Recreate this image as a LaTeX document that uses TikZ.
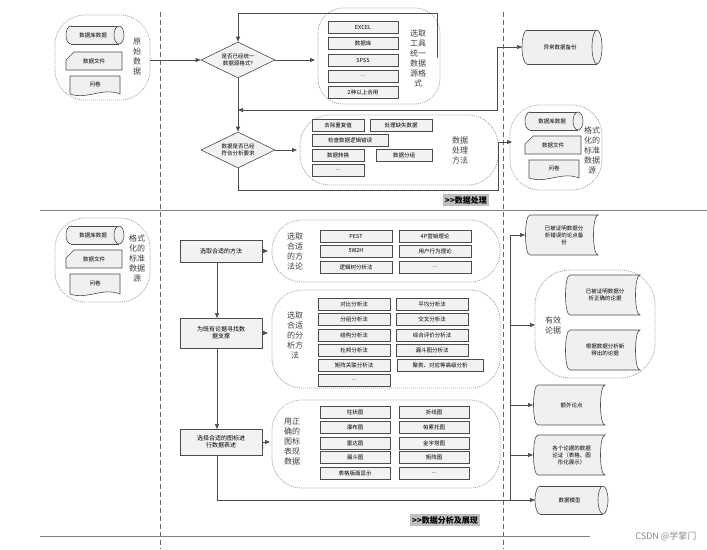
\documentclass[tikz,border=0pt]{standalone}
\usepackage{fontspec}
\setmainfont{Noto Sans CJK SC}
\usetikzlibrary{shapes.geometric,arrows.meta,calc}
\tikzset{
 shp/.style={draw=black!70,fill=black!6,line width=0.6pt},
 bx/.style={draw=black!70,fill=black!5,line width=0.6pt,inner sep=0pt,font=\fontsize{5.5}{6.5}\selectfont},
 grp/.style={draw=black!35,dash pattern=on 1pt off 1pt,line width=0.8pt,rounded corners=30pt},
 lab/.style={font=\fontsize{8}{10}\selectfont,align=center,text=black!75},
 tx/.style={font=\fontsize{5.5}{7}\selectfont,align=center},
 ln/.style={draw=black!70,line width=0.7pt},
 ar/.style={ln,-{Triangle[length=5pt,width=4pt]}},
 dia/.style={diamond,aspect=2,draw=black!70,fill=black!5,line width=0.6pt,inner sep=1pt,font=\fontsize{5.5}{7}\selectfont,align=center},
 ban/.style={fill=black!25,font=\bfseries\fontsize{8}{9}\selectfont,inner sep=2pt}
}
\newcommand\rb[6]{\node[bx,minimum width=#4 pt,minimum height=#5 pt] (#1) at (#2,#3) {#6};}
\newcommand\cysh[6]{%
 \path[shp] ($(#2,#3)!0.5!(#2,#5)+(5,0)$) ellipse [x radius=5,y radius={(#5-#3)/2}];
 \fill[black!6] ($(#2,#3)+(5,0)$) rectangle ($(#4,#5)+(-5,0)$);
 \draw[draw=black!70,line width=0.6pt] ($(#2,#3)+(5,0)$) -- ($(#4,#3)+(-5,0)$) ($(#2,#5)+(5,0)$) -- ($(#4,#5)+(-5,0)$);
 \path[shp] ($(#4,#3)!0.5!(#4,#5)+(-5,0)$) ellipse [x radius=5,y radius={(#5-#3)/2}];
 \node[tx] (#1) at ($(#2,#3)!0.5!(#4,#5)+(-2,0)$) {#6};}
\newcommand\docsh[6]{%
 \draw[shp] (#2,#3) -- (#4,#3) -- (#4,#5) .. controls ($(#4,#5)!0.35!(#2,#5)+(0,-7)$) and ($(#4,#5)!0.65!(#2,#5)+(0,6)$) .. (#2,#5) -- cycle;
 \node[tx] (#1) at ($(#2,#3)!0.5!(#4,#5)+(0,-1)$) {#6};}
\newcommand\cardsh[6]{%
 \draw[shp] ($(#2,#3)+(8,0)$) -- (#4,#3) -- (#4,#5) -- (#2,#5) -- ($(#2,#3)+(0,8)$) -- cycle;
 \node[tx] (#1) at ($(#2,#3)!0.5!(#4,#5)$) {#6};}
\newcommand\cvsh[6]{%
 \draw[shp] (#2,#3) -- (#4,#3) .. controls ($(#4,#3)+(-6,0)$) and ($(#4,#5)+(-6,0)$) .. (#4,#5) -- (#2,#5) .. controls ($(#2,#5)+(-6,0)$) and ($(#2,#3)+(-6,0)$) .. (#2,#3) -- cycle;
 \node[tx] (#1) at ($(#2,#3)!0.5!(#4,#5)$) {#6};}
\begin{document}
\begin{tikzpicture}[x=1pt,y=-1pt]
\useasboundingbox (0,0) rectangle (707,549);
\fill[white] (0,0) rectangle (707,549);
\draw[black!60,dash pattern=on 5pt off 3pt,line width=0.8pt] (160,12) -- (160,549);
\draw[black!60,dash pattern=on 5pt off 3pt,line width=0.8pt] (503,12) -- (503,549);
\draw[black!50,line width=1pt] (40,210) -- (707,210);
\draw[black!50,line width=1pt] (40,536) -- (590,536);
% ---------- top left ----------
\draw[grp] (55,15) rectangle (150,100);
\cysh{s1}{66}{26}{124}{44}{数据库数据}
\cardsh{s2}{66}{52}{122}{70}{数据文件}
\docsh{s3}{70}{76}{120}{94}{问卷}
\node[lab] (s0) at (137,57) {原\\始\\数\\据};
\node[dia,minimum width=74pt,minimum height=36pt] (d1) at (238,60) {是否已经统一\\数据源格式?};
\draw[ar] (150,60) -- (d1.west);
\draw[grp,rounded corners=25pt] (318,8) rectangle (440,104);
\rb{t1}{363}{27}{70}{12}{EXCEL}
\rb{t2}{363}{43}{70}{12}{数据库}
\rb{t3}{363}{60}{70}{12}{SPSS}
\rb{t4}{363}{76}{70}{12}{...}
\rb{t5}{363}{92}{70}{12}{2种以上合用}
\node[lab] (tl) at (418,58) {选取\\工具\\统一\\数据\\源格\\式};
\draw[ar] (d1.east) -- (315,60);
\draw[ar] (437,58) -- (437,13) -- (238,13) -- (d1.north);
\node[dia,minimum width=74pt,minimum height=36pt] (d2) at (238,150) {数据是否已经\\符合分析要求};
\draw[ar] (d1.south) -- (d2.north);
\cysh{bk}{522}{30}{602}{64}{异常数据备份}
\draw[ar] (497,47) -- (522,47);
\draw[ar] (497,47) -- (497,110) -- (238,110);
\draw[grp] (300,115) rectangle (498,185);
\rb{p1}{338}{125}{52}{12}{去除重复值}
\rb{p2}{401}{125}{62}{12}{处理缺失数据}
\rb{p3}{350}{140}{76}{12}{检查数据逻辑错误}
\rb{p4}{338}{155}{52}{12}{数据转换}
\rb{p5}{404}{155}{56}{12}{数据分组}
\rb{p6}{338}{170}{52}{12}{...}
\node[lab] (pl) at (460,150) {数据\\处理\\方法};
\draw[ar] (d2.east) -- (297,150);
\draw[grp] (510,105) rectangle (602,190);
\cysh{f1}{525}{112}{583}{130}{数据库数据}
\cardsh{f2}{525}{136}{581}{154}{数据文件}
\docsh{f3}{529}{160}{579}{178}{问卷}
\node[lab] (f0) at (592,150) {格式\\化的\\标准\\数据\\源};
\draw[ar] (d2.south) -- (238,190) -- (498,190) -- (498,142) -- (512,142);
\node[ban] (b1) at (466,200) {{>}{>}数据处理};
% ---------- bottom ----------
\draw[grp] (55,218) rectangle (150,302);
\cysh{g1}{66}{226}{124}{244}{数据库数据}
\cardsh{g2}{66}{250}{122}{268}{数据文件}
\docsh{g3}{70}{274}{120}{294}{问卷}
\node[lab] (g0) at (137,258) {格式\\化的\\标准\\数据\\源};
\node[bx,minimum width=82pt,minimum height=22pt,font=\fontsize{6}{7}\selectfont] (m1) at (221,251) {选取合适的方法};
\node[bx,minimum width=82pt,minimum height=30pt,align=center,font=\fontsize{6}{7}\selectfont] (m2) at (221,333) {为既有论据寻找数\\据支撑};
\node[bx,minimum width=82pt,minimum height=26pt,align=center,font=\fontsize{6}{7}\selectfont] (m3) at (221,442) {选择合适的图标进\\行数据表述};
\draw[ar] (217,262) -- (217,318);
\draw[ar] (217,348) -- (217,429);
\draw[grp] (272,220) rectangle (500,282);
\node[lab] (ml1) at (295,251) {选取\\合适\\的方\\法论};
\rb{a1}{356}{236}{72}{12}{PEST}
\rb{a2}{435}{236}{72}{12}{4P营销理论}
\rb{a3}{356}{251}{72}{12}{5W2H}
\rb{a4}{435}{251}{72}{12}{用户行为理论}
\rb{a5}{356}{267}{72}{12}{逻辑树分析法}
\rb{a6}{435}{267}{72}{12}{...}
\draw[ar] (m1.east) -- (268,251);
\draw[grp] (272,290) rectangle (500,388);
\node[lab] (ml2) at (295,335) {选取\\合适\\的分\\析方\\法};
\rb{c1}{354}{304}{72}{12}{对比分析法}
\rb{c2}{432}{304}{72}{12}{平均分析法}
\rb{c3}{354}{319}{72}{12}{分组分析法}
\rb{c4}{432}{319}{72}{12}{交叉分析法}
\rb{c5}{354}{335}{72}{12}{结构分析法}
\rb{c6}{432}{335}{72}{12}{综合评价分析法}
\rb{c7}{354}{350}{72}{12}{杜邦分析法}
\rb{c8}{432}{350}{72}{12}{漏斗图分析法}
\rb{c9}{354}{365}{72}{12}{矩阵关联分析法}
\rb{c10}{440}{365}{86}{12}{聚类、对应等高级分析}
\rb{c11}{354}{380}{72}{12}{...}
\draw[ar] (m2.east) -- (268,333);
\draw[grp] (272,400) rectangle (500,488);
\node[lab] (ml3) at (292,442) {用正\\确的\\图标\\表现\\数据};
\rb{e1}{355}{412}{70}{12}{柱状图}
\rb{e2}{434}{412}{70}{12}{折线图}
\rb{e3}{355}{427}{70}{12}{瀑布图}
\rb{e4}{434}{427}{70}{12}{帕累托图}
\rb{e5}{355}{443}{70}{12}{雷达图}
\rb{e6}{434}{443}{70}{12}{金字塔图}
\rb{e7}{355}{457}{70}{12}{漏斗图}
\rb{e8}{434}{457}{70}{12}{矩阵图}
\rb{e9}{355}{473}{70}{12}{表格版面显示}
\rb{e10}{434}{473}{70}{12}{...}
\draw[ar] (m3.east) -- (270,442);
\cvsh{r1}{530}{215}{598}{255}{已被证明数据分\\析错误的论点备\\份}
\draw[grp,rounded corners=35pt] (535,270) rectangle (655,378);
\cvsh{r2}{570}{275}{640}{315}{已被证明数据分\\析正确的论据}
\cvsh{r3}{570}{330}{640}{370}{根据数据分析新\\得出的论据}
\node[lab] (r0) at (553,325) {有效\\论据};
\cvsh{r4}{538}{385}{605}{425}{额外论点}
\cvsh{r5}{538}{435}{605}{475}{各个论据的数据\\论证（表格、图\\形化展示）}
\cysh{r6}{535}{486}{608}{514}{数据模型}
\draw[ln] (217,455) -- (217,500) -- (510,500);
\draw[ln] (510,235) -- (510,500);
\draw[ar] (510,235) -- (525,235);
\draw[ar] (510,325) -- (535,325);
\draw[ar] (510,405) -- (533,405);
\draw[ar] (510,455) -- (533,455);
\draw[ar] (510,500) -- (535,500);
\node[ban] (b2) at (445,520) {{>}{>}数据分析及展现};
\node[text=black!45,font=\fontsize{9}{10}\selectfont,anchor=east] (wm) at (700,536) {CSDN @学掌门};
\end{tikzpicture}
\end{document}
